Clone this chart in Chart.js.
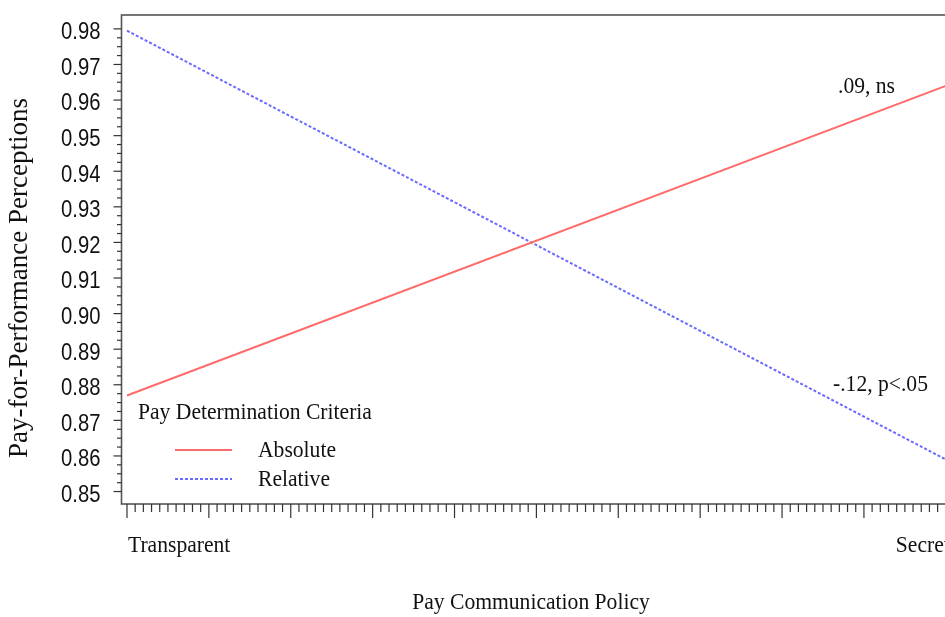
<!DOCTYPE html>
<html>
<head>
<meta charset="utf-8">
<script src="https://cdn.jsdelivr.net/npm/chart.js@4"></script>
<style>
  html, body { margin: 0; padding: 0; overflow: hidden; background: #fff; }
  #wrap { width: 960px; height: 617px; position: relative; }
</style>
</head>
<body>
<div id="wrap"><canvas id="c"></canvas></div>
<script>
// Pay communication policy (x: 0 = Transparent, 10 = Secret)
const policyLabels = ['Transparent', 'Secret'];
const policyPositions = [0, 10];

// Predicted pay-for-performance perceptions at each end of the policy axis
const absoluteValues = [0.877, 0.964];
const relativeValues = [0.9795, 0.859];

// Series names, slope notes and axis ticks
const seriesNames = ['Absolute', 'Relative'];
const slopeNotes = ['.09, ns', '-.12, p<.05'];
const yTickLabels = ['0.85','0.86','0.87','0.88','0.89','0.90','0.91','0.92','0.93','0.94','0.95','0.96','0.97','0.98'];

const SERIF = '"Liberation Serif", "Times New Roman", serif';
const SANS = '"Liberation Sans", Arial, sans-serif';
const INK = '#111';
const AXIS = '#555';

function toPoints(vals) {
  return vals.map((v, i) => ({ x: policyPositions[i], y: v }));
}

// text drawn slightly condensed horizontally
function condensedText(ctx, text, x, y, font, align, sx) {
  ctx.save();
  ctx.translate(x, y);
  ctx.scale(sx, 1);
  ctx.font = font;
  ctx.textAlign = align;
  ctx.textBaseline = 'middle';
  ctx.fillText(text, 0, 0);
  ctx.restore();
}

const decor = {
  id: 'decor',
  afterDatasetsDraw(chart) {
    const { ctx, chartArea: a, scales: { x, y } } = chart;
    ctx.save();

    // frame
    ctx.strokeStyle = AXIS;
    ctx.lineWidth = 1.6;
    ctx.strokeRect(a.left, a.top, a.right - a.left, a.bottom - a.top);

    // y ticks: major every 0.01, minor every 0.0025
    ctx.strokeStyle = '#333';
    ctx.lineWidth = 1.2;
    yTickLabels.forEach((lab, i) => {
      const v = parseFloat(lab);
      const py = y.getPixelForValue(v);
      ctx.beginPath();
      ctx.moveTo(a.left, py); ctx.lineTo(a.left - 8, py);
      ctx.stroke();
      if (i < yTickLabels.length - 1) {
        for (let k = 1; k < 4; k++) {
          const my = y.getPixelForValue(v + k * 0.0025);
          ctx.beginPath();
          ctx.moveTo(a.left, my); ctx.lineTo(a.left - 4.5, my);
          ctx.stroke();
        }
      }
    });
    ctx.fillStyle = INK;
    yTickLabels.forEach(lab => {
      condensedText(ctx, lab, a.left - 21, y.getPixelForValue(parseFloat(lab)) + 4,
        '23px ' + SANS, 'right', 0.88);
    });

    // x ticks: major every 1, minor every 0.1
    for (let i = 0; i <= 100; i++) {
      const px = x.getPixelForValue(i / 10);
      const len = (i % 10 === 0) ? 14 : 8;
      ctx.beginPath();
      ctx.moveTo(px, a.bottom); ctx.lineTo(px, a.bottom + len);
      ctx.stroke();
    }

    const serif = '24px ' + SERIF;
    const sx = 0.9;

    // category labels under the axis
    condensedText(ctx, policyLabels[0], x.getPixelForValue(policyPositions[0]) + 1, 546, serif, 'left', sx);
    condensedText(ctx, policyLabels[1], x.getPixelForValue(policyPositions[1]) + 4, 546, serif, 'right', sx);

    // axis titles
    condensedText(ctx, 'Pay Communication Policy', 531, 603, serif, 'center', sx);
    ctx.save();
    ctx.translate(20, 278);
    ctx.rotate(-Math.PI / 2);
    ctx.font = '27px ' + SERIF;
    ctx.textAlign = 'center';
    ctx.textBaseline = 'middle';
    ctx.fillText('Pay-for-Performance Perceptions', 0, 0);
    ctx.restore();

    // slope notes
    condensedText(ctx, slopeNotes[0], 838, 87, serif, 'left', sx);
    condensedText(ctx, slopeNotes[1], 833, 385, serif, 'left', sx);

    // legend
    condensedText(ctx, 'Pay Determination Criteria', 138, 413, serif, 'left', sx);
    chart.data.datasets.forEach((ds, i) => {
      const ly = 450 + i * 29;
      ctx.save();
      ctx.strokeStyle = ds.borderColor;
      ctx.lineWidth = ds.borderWidth;
      ctx.setLineDash(ds.borderDash || []);
      ctx.beginPath();
      ctx.moveTo(175, ly); ctx.lineTo(232, ly);
      ctx.stroke();
      ctx.restore();
      condensedText(ctx, seriesNames[i], 258, ly + 1, serif, 'left', sx);
    });

    ctx.restore();
  }
};

new Chart(document.getElementById('c'), {
  type: 'line',
  data: {
    datasets: [
      {
        label: seriesNames[0],
        data: toPoints(absoluteValues),
        borderColor: '#FF6A6A',
        borderWidth: 2,
        pointRadius: 0
      },
      {
        label: seriesNames[1],
        data: toPoints(relativeValues),
        borderColor: '#6A6AFF',
        borderWidth: 2,
        borderDash: [3, 2],
        pointRadius: 0
      }
    ]
  },
  options: {
    responsive: true,
    maintainAspectRatio: false,
    animation: false,
    layout: { padding: { left: 121.5, top: 15, bottom: 113, right: 6 } },
    plugins: { legend: { display: false }, tooltip: { enabled: false } },
    scales: {
      x: { type: 'linear', display: false, min: -0.067, max: 10.1 },
      y: { type: 'linear', display: false, min: 0.8465, max: 0.9839 }
    }
  },
  plugins: [decor]
});
</script>
</body>
</html>
